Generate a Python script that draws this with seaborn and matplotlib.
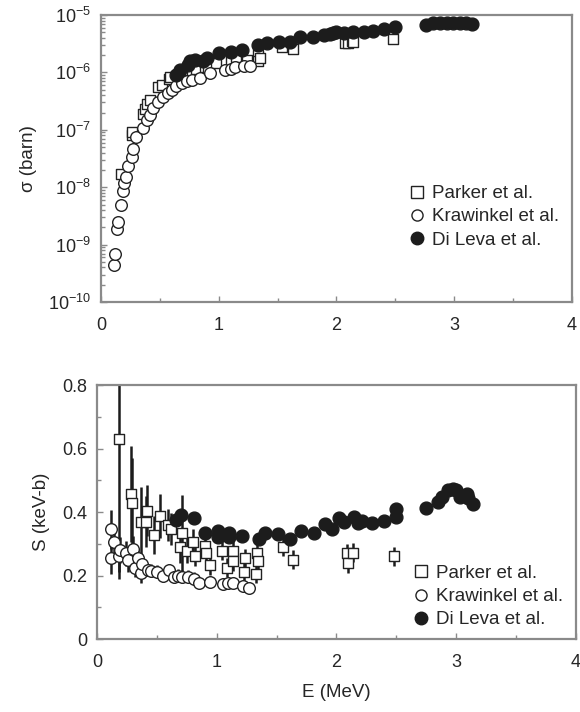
import numpy as np
import pandas as pd
import matplotlib
matplotlib.use("Agg")
import matplotlib.pyplot as plt
import seaborn as sns
from matplotlib.ticker import MultipleLocator, LogLocator, NullFormatter, FixedLocator

# ---- data ---------------------------------------------------------------
# top panel: cross section sigma (barn) vs E (MeV)
parker_E_sig = [0.17, 0.26, 0.266, 0.36, 0.374, 0.39, 0.416, 0.487, 0.515, 0.577,
                0.586, 0.657, 0.73, 0.77, 0.81, 0.88, 0.91, 0.98, 1.10, 1.15,
                1.24, 1.336, 1.336, 1.35, 1.535, 1.63, 2.07, 2.10, 2.13, 2.14, 2.477]
parker_sig = [1.7e-8, 8.0e-8, 9.3e-8, 1.9e-7, 2.3e-7, 2.8e-7, 3.3e-7, 5.5e-7, 6.0e-7, 7.6e-7,
              8.4e-7, 9.0e-7, 1.1e-6, 1.05e-6, 1.17e-6, 1.26e-6, 1.2e-6, 1.44e-6, 1.54e-6, 1.88e-6,
              1.65e-6, 2.0e-6, 1.6e-6, 1.8e-6, 2.8e-6, 2.6e-6, 3.3e-6, 3.2e-6, 3.5e-6, 3.4e-6, 3.8e-6]

kraw_E_sig = [0.11, 0.119, 0.139, 0.147, 0.167, 0.19, 0.198, 0.21, 0.232, 0.26,
              0.275, 0.30, 0.36, 0.39, 0.416, 0.444, 0.487, 0.53, 0.57, 0.60,
              0.64, 0.685, 0.73, 0.77, 0.84, 0.93, 1.05, 1.10, 1.14, 1.215, 1.265]
kraw_sig = [4.4e-10, 6.9e-10, 1.85e-9, 2.5e-9, 4.9e-9, 8.7e-9, 1.17e-8, 1.5e-8, 2.3e-8, 3.4e-8,
            4.6e-8, 7.6e-8, 1.06e-7, 1.5e-7, 1.8e-7, 2.4e-7, 3.1e-7, 3.8e-7, 4.3e-7, 4.9e-7,
            5.8e-7, 6.5e-7, 7.1e-7, 7.4e-7, 7.9e-7, 9.6e-7, 1.1e-6, 1.17e-6, 1.26e-6, 1.3e-6, 1.3e-6]

dileva_E_sig = [0.637, 0.67, 0.74, 0.756, 0.80, 0.87, 0.90, 1.0, 1.10, 1.195,
                1.336, 1.41, 1.51, 1.605, 1.69, 1.80, 1.89, 1.945, 1.97, 2.0,
                2.06, 2.14, 2.23, 2.31, 2.40, 2.50, 2.76, 2.82, 2.88, 2.94,
                2.99, 3.05, 3.10, 3.15]
dileva_sig = [9.0e-7, 1.1e-6, 1.35e-6, 1.55e-6, 1.65e-6, 1.55e-6, 1.76e-6, 2.15e-6, 2.3e-6, 2.5e-6,
              3.0e-6, 3.3e-6, 3.4e-6, 3.4e-6, 4.1e-6, 4.2e-6, 4.5e-6, 4.7e-6, 4.8e-6, 5.1e-6,
              4.9e-6, 5.1e-6, 5.1e-6, 5.3e-6, 5.6e-6, 6.3e-6, 6.7e-6, 7.2e-6, 7.4e-6, 7.4e-6,
              7.4e-6, 7.4e-6, 7.2e-6, 7.0e-6]

# bottom panel: S-factor (keV-b) vs E (MeV)
parker_E_S = [0.18, 0.28, 0.295, 0.37, 0.41, 0.415, 0.475, 0.525, 0.59, 0.62,
              0.69, 0.71, 0.75, 0.80, 0.82, 0.90, 0.91, 0.94, 1.04, 1.085,
              1.135, 1.14, 1.23, 1.24, 1.325, 1.34, 1.345, 1.55, 1.64, 2.09,
              2.10, 2.14, 2.48]
parker_S = [0.629, 0.457, 0.43, 0.37, 0.37, 0.404, 0.328, 0.387, 0.36, 0.346,
            0.29, 0.335, 0.278, 0.306, 0.26, 0.293, 0.27, 0.233, 0.278, 0.224,
            0.278, 0.245, 0.212, 0.255, 0.205, 0.27, 0.245, 0.29, 0.25, 0.27,
            0.238, 0.272, 0.26]
parker_dS = [0.44, 0.15, 0.14, 0.11, 0.08, 0.08, 0.06, 0.07, 0.05, 0.05,
             0.05, 0.12, 0.04, 0.04, 0.03, 0.03, 0.03, 0.03, 0.03, 0.03,
             0.03, 0.03, 0.03, 0.03, 0.03, 0.03, 0.03, 0.03, 0.03, 0.03,
             0.03, 0.03, 0.03]

kraw_E_S = [0.114, 0.12, 0.14, 0.18, 0.19, 0.24, 0.26, 0.30, 0.32, 0.34,
            0.365, 0.38, 0.43, 0.45, 0.50, 0.55, 0.60, 0.64, 0.68, 0.71,
            0.76, 0.81, 0.85, 0.94, 1.05, 1.09, 1.14, 1.22, 1.27]
kraw_S = [0.345, 0.255, 0.305, 0.26, 0.28, 0.27, 0.25, 0.283, 0.225, 0.255,
          0.207, 0.235, 0.217, 0.215, 0.212, 0.20, 0.217, 0.195, 0.20, 0.196,
          0.196, 0.19, 0.175, 0.18, 0.172, 0.175, 0.177, 0.167, 0.16]
kraw_dS = [0.06, 0.05, 0.05, 0.05, 0.04, 0.04, 0.04, 0.04, 0.03, 0.03,
           0.03, 0.03, 0.02, 0.02, 0.02, 0.02, 0.02, 0.02, 0.02, 0.02,
           0.02, 0.02, 0.015, 0.015, 0.015, 0.015, 0.015, 0.015, 0.015]

dileva_E_S = [0.66, 0.70, 0.81, 0.90, 1.01, 1.01, 1.105, 1.105, 1.21, 1.35,
              1.40, 1.51, 1.61, 1.70, 1.81, 1.90, 1.96, 2.02, 2.06, 2.15,
              2.18, 2.21, 2.30, 2.40, 2.50, 2.50, 2.75, 2.85, 2.88, 2.93,
              2.97, 3.00, 3.03, 3.09, 3.10, 3.14]
dileva_S = [0.375, 0.39, 0.38, 0.333, 0.34, 0.32, 0.335, 0.32, 0.324, 0.315,
            0.335, 0.33, 0.315, 0.341, 0.333, 0.363, 0.347, 0.38, 0.368, 0.383,
            0.365, 0.372, 0.367, 0.372, 0.41, 0.385, 0.413, 0.432, 0.448, 0.469,
            0.471, 0.468, 0.448, 0.457, 0.444, 0.425]

labels = ["Parker et al.", "Krawinkel et al.", "Di Leva et al."]

# ---- style ------------------------------------------------------------------
sns.set_style("white")
plt.rcParams["font.family"] = ["Liberation Sans", "DejaVu Sans"]
plt.rcParams["mathtext.default"] = "regular"
GREY = "#8a8a8a"
FS = 13.5

fig = plt.figure(figsize=(5.8, 7.12), dpi=100)
ax1 = fig.add_axes([0.1741, 0.5758, 0.8121, 0.4031])
ax2 = fig.add_axes([0.1672, 0.1025, 0.8259, 0.3567])

marker_kw = {
    labels[0]: dict(marker="s", facecolor="white", edgecolor="#222222", s=62, linewidth=1.0),
    labels[1]: dict(marker="o", facecolor="white", edgecolor="#222222", s=70, linewidth=1.0),
    labels[2]: dict(marker="o", facecolor="#1c1c1c", edgecolor="#1c1c1c", s=85, linewidth=1.0),
}


def scatter(ax, x, y, lab):
    df = pd.DataFrame({"E": x, "y": y})
    kw = marker_kw[lab]
    sns.scatterplot(data=df, x="E", y="y", ax=ax, marker=kw["marker"], s=kw["s"],
                    color=kw["facecolor"], edgecolor=kw["edgecolor"],
                    linewidth=kw["linewidth"], zorder=3)


# top panel
scatter(ax1, parker_E_sig, parker_sig, labels[0])
scatter(ax1, kraw_E_sig, kraw_sig, labels[1])
scatter(ax1, dileva_E_sig, dileva_sig, labels[2])
ax1.set_yscale("log")
ax1.set_ylim(1e-10, 1e-5)
ax1.yaxis.set_major_locator(LogLocator(base=10, numticks=10))
ax1.yaxis.set_minor_locator(LogLocator(base=10, subs=np.arange(2, 10), numticks=10))
ax1.yaxis.set_minor_formatter(NullFormatter())
ax1.set_yticks([1e-10, 1e-9, 1e-8, 1e-7, 1e-6, 1e-5])
ax1.set_yticklabels([r"10$^{-10}$", r"10$^{-9}$", r"10$^{-8}$", r"10$^{-7}$",
                     r"10$^{-6}$", r"10$^{-5}$"])
ax1.set_ylabel("σ (barn)", fontsize=FS, labelpad=8)
ax1.set_xlabel("")

# bottom panel: error bars then markers
ax2.errorbar(parker_E_S, parker_S, yerr=parker_dS, fmt="none", ecolor="#1c1c1c",
             elinewidth=1.8, capsize=0, zorder=2)
ax2.errorbar(kraw_E_S, kraw_S, yerr=kraw_dS, fmt="none", ecolor="#1c1c1c",
             elinewidth=1.8, capsize=0, zorder=2)
scatter(ax2, kraw_E_S, kraw_S, labels[1])
scatter(ax2, parker_E_S, parker_S, labels[0])
scatter(ax2, dileva_E_S, dileva_S, labels[2])
ax2.set_ylim(0, 0.8)
ax2.yaxis.set_minor_locator(MultipleLocator(0.1))
ax2.set_yticks([0, 0.2, 0.4, 0.6, 0.8])
ax2.set_yticklabels(["0", "0.2", "0.4", "0.6", "0.8"])
ax2.set_ylabel("S (keV-b)", fontsize=FS, labelpad=9)
ax2.set_xlabel("E (MeV)", fontsize=FS, labelpad=9)

for ax in (ax1, ax2):
    ax.set_xlim(0, 4)
    ax.xaxis.set_major_locator(FixedLocator([0, 1, 2, 3, 4]))
    ax.xaxis.set_minor_locator(FixedLocator([0.5, 1.5, 2.5, 3.5]))
    for sp in ax.spines.values():
        sp.set_color(GREY)
        sp.set_linewidth(1.6)
    ax.tick_params(which="both", direction="in", color=GREY, width=1.0,
                   labelsize=13, left=True, bottom=True)
    ax.tick_params(axis="y", pad=7)
    ax.tick_params(axis="x", pad=11)
    ax.tick_params(which="major", length=4)
    ax.tick_params(which="minor", length=3)
    # legend built from proxy markers
    handles = [
        plt.Line2D([], [], ls="none", marker="s", markersize=8, markerfacecolor="white",
                   markeredgecolor="#222222", markeredgewidth=1.0),
        plt.Line2D([], [], ls="none", marker="o", markersize=8, markerfacecolor="white",
                   markeredgecolor="#222222", markeredgewidth=1.0),
        plt.Line2D([], [], ls="none", marker="o", markersize=9, markerfacecolor="#1c1c1c",
                   markeredgecolor="#1c1c1c"),
    ]
    ax.legend(handles, labels, loc="lower right", frameon=False, fontsize=FS,
              handlelength=0.6, handletextpad=0.5, labelspacing=0.33,
              borderaxespad=0.3)

ax1.get_legend().set_bbox_to_anchor((1.0, 0.14))
ax2.get_legend().set_bbox_to_anchor((1.0, -0.01))

fig.savefig("out.png", dpi=100)
